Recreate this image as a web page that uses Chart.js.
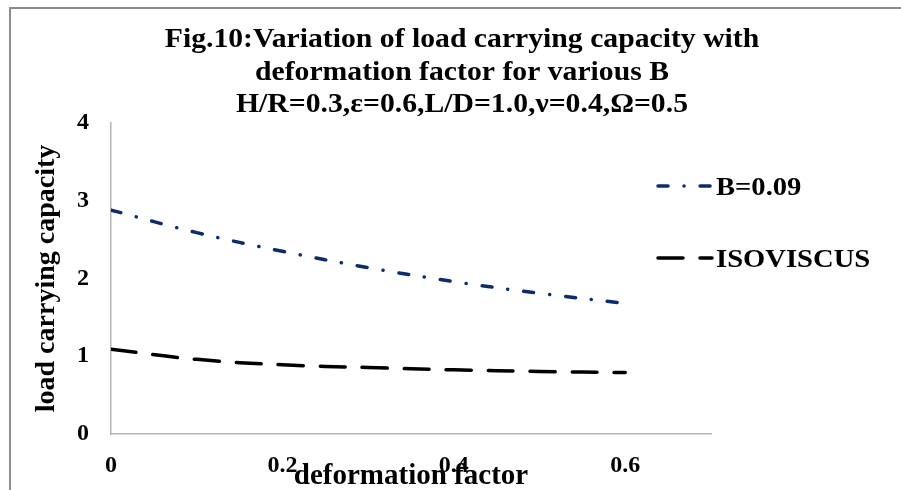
<!DOCTYPE html>
<html>
<head>
<meta charset="utf-8">
<script src="https://cdn.jsdelivr.net/npm/chart.js@4.4.0/dist/chart.umd.min.js"></script>
<style>
html,body{margin:0;padding:0;background:#fff;}
#wrap{position:relative;width:901px;height:490px;overflow:hidden;}
#frame{position:absolute;left:9px;top:7px;width:900px;height:490px;border-top:2px solid #8c8c8c;border-left:2px solid #8c8c8c;pointer-events:none;}
canvas{position:absolute;left:0;top:0;}
</style>
</head>
<body>
<div id="wrap">
<canvas id="chart" width="901" height="490"></canvas>
<div id="frame"></div>
</div>
<script>
const deformation = [0, 0.1, 0.2, 0.3, 0.4, 0.5, 0.6];
const capacityB = [2.88, 2.59, 2.35, 2.14, 1.96, 1.81, 1.68];
const capacityIso = [1.09, 0.96, 0.89, 0.855, 0.825, 0.805, 0.79];
const seriesNames = ["B=0.09", "ISOVISCUS"];
const xTicks = [0, 0.2, 0.4, 0.6];
const yTicks = [0, 1, 2, 3, 4];
const titleLines = [
  "Fig.10:Variation of load carrying capacity with",
  "deformation factor for various B",
  "H/R=0.3,\u03b5=0.6,L/D=1.0,\u03bd=0.4,\u03a9=0.5"
];

const serif = '"Liberation Serif", "Times New Roman", serif';

/* title + legend drawn on top */
const overlay = {
  id: 'overlay',
  afterDraw(chart) {
    const ctx = chart.ctx;
    ctx.save();
    ctx.fillStyle = '#000';
    ctx.textBaseline = 'alphabetic';

    ctx.font = 'bold 27px ' + serif;
    ctx.textAlign = 'center';
    titleLines.forEach((t, i) => {
      ctx.save();
      ctx.translate(462, 47 + i * 32.5);
      ctx.scale(1.1, 1);
      ctx.fillText(t, 0, 0);
      ctx.restore();
    });

    ctx.textAlign = 'left';
    ctx.font = 'bold 26px ' + serif;
    chart.data.datasets.forEach((ds, i) => {
      const y = 186 + i * 72;
      ctx.save();
      ctx.strokeStyle = ds.borderColor;
      ctx.lineWidth = ds.borderWidth;
      ctx.lineCap = 'round';
      ctx.setLineDash(ds.borderDash);
      ctx.beginPath();
      ctx.moveTo(658, y);
      ctx.lineTo(712, y);
      ctx.stroke();
      ctx.restore();

      ctx.save();
      ctx.translate(716, y + 9);
      ctx.scale(1.1, 1);
      ctx.fillText(ds.label, 0, 0);
      ctx.restore();
    });
    ctx.restore();
  }
};

const toPoints = ys => ys.map((y, i) => ({x: deformation[i], y: y}));

new Chart(document.getElementById('chart'), {
  type: 'line',
  data: {
    datasets: [{
      label: seriesNames[0],
      data: toPoints(capacityB),
      borderColor: '#0b2d6b',
      borderWidth: 3.5,
      borderDash: [10, 16, 0.1, 16],
      borderCapStyle: 'round',
      pointRadius: 0,
      tension: 0.4
    }, {
      label: seriesNames[1],
      data: toPoints(capacityIso),
      borderColor: '#000',
      borderWidth: 3.5,
      borderDash: [25, 17],
      borderCapStyle: 'round',
      pointRadius: 0,
      tension: 0.4
    }]
  },
  options: {
    responsive: false,
    animation: false,
    devicePixelRatio: 1,
    layout: {padding: {top: 123, left: 10, right: 190, bottom: 0}},
    plugins: {legend: {display: false}, tooltip: {enabled: false}},
    scales: {
      x: {
        type: 'linear',
        min: 0,
        max: 0.7,
        afterBuildTicks: s => { s.ticks = xTicks.map(v => ({value: v})); },
        grid: {display: false, drawTicks: false},
        border: {color: '#b5b5b5', width: 1.5},
        ticks: {
          color: '#000',
          padding: 20,
          font: {family: serif, size: 24, weight: 'bold', lineHeight: 1},
          callback: v => v === 0 ? '0' : v.toFixed(1)
        },
        title: {
          display: true,
          text: 'deformation factor',
          color: '#000',
          font: {family: serif, size: 29, weight: 'bold', lineHeight: 1},
          padding: {top: -36, bottom: -1}
        }
      },
      y: {
        min: 0,
        max: 4,
        afterBuildTicks: s => { s.ticks = yTicks.map(v => ({value: v})); },
        grid: {display: false, drawTicks: false},
        border: {color: '#b5b5b5', width: 1.5},
        ticks: {
          color: '#000',
          padding: 22,
          font: {family: serif, size: 24, weight: 'bold', lineHeight: 1}
        },
        title: {
          display: true,
          text: 'load carrying capacity',
          color: '#000',
          font: {family: serif, size: 28, weight: 'bold', lineHeight: 1},
          padding: {top: 23, bottom: -6}
        }
      }
    }
  },
  plugins: [overlay]
});
</script>
</body>
</html>
